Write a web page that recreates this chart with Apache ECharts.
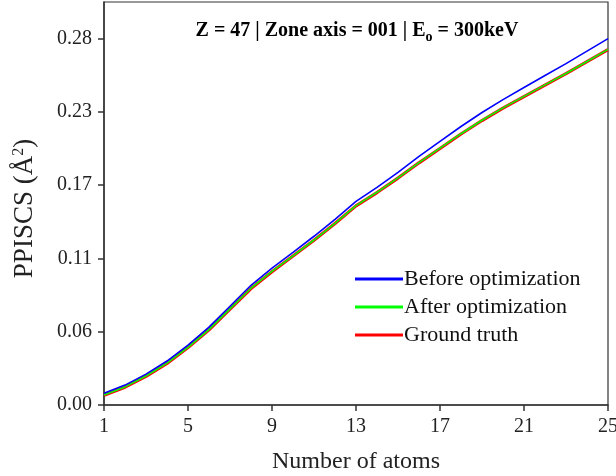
<!DOCTYPE html>
<html>
<head>
<meta charset="utf-8">
<script src="https://cdn.jsdelivr.net/npm/echarts@6/dist/echarts.min.js"></script>
<style>
  html, body { margin: 0; padding: 0; background: #fff; }
  #chart { width: 616px; height: 476px; }
</style>
</head>
<body>
<div id="chart"></div>
<script>
// Number of atoms in the column
const atoms = [1, 2, 3, 4, 5, 6, 7, 8, 9, 10, 11, 12, 13, 14, 15, 16, 17, 18, 19, 20, 21, 22, 23, 24, 25];

// PPISCS values (Å^2)
const beforeOpt = [0.0090, 0.0154, 0.0239, 0.0340, 0.0463, 0.0602, 0.0764, 0.0926, 0.1058, 0.1181,
                   0.1305, 0.1436, 0.1575, 0.1683, 0.1799, 0.1922, 0.2038, 0.2154, 0.2262, 0.2362,
                   0.2455, 0.2548, 0.2640, 0.2737, 0.2833];
const afterOpt  = [0.0077, 0.0140, 0.0224, 0.0324, 0.0446, 0.0583, 0.0743, 0.0903, 0.1033, 0.1154,
                   0.1276, 0.1405, 0.1542, 0.1645, 0.1757, 0.1875, 0.1986, 0.2098, 0.2202, 0.2298,
                   0.2387, 0.2476, 0.2564, 0.2657, 0.2750];
const groundTruth = [0.0075, 0.0138, 0.0222, 0.0322, 0.0444, 0.0581, 0.0741, 0.0901, 0.1031, 0.1152,
                     0.1274, 0.1403, 0.1540, 0.1643, 0.1755, 0.1873, 0.1984, 0.2096, 0.2200, 0.2296,
                     0.2385, 0.2474, 0.2562, 0.2655, 0.2748];

// Axis ticks
const xTicks = [1, 5, 9, 13, 17, 21, 25];
const yTicks = [0, 0.28333 / 5, 0.28333 * 2 / 5, 0.28333 * 3 / 5, 0.28333 * 4 / 5, 0.28333];
const yMax = 0.28333 * 1.1;

const serif = '"Liberation Serif", "Times New Roman", serif';
const axisColor = '#333';
const textColor = '#222';

const pairs = (ys) => atoms.map((x, i) => [x, ys[i]]);

const chart = echarts.init(document.getElementById('chart'), null, { renderer: 'canvas' });

chart.setOption({
  animation: false,
  backgroundColor: '#fff',
  grid: {
    left: 104, right: 8, top: 2, bottom: 71,
    outerBoundsMode: 'none', containLabel: false,
    show: true, borderColor: axisColor, borderWidth: 1.2, backgroundColor: 'transparent'
  },
  graphic: [{
    type: 'text',
    x: 357, y: 31,
    style: {
      text: '{b|Z = 47 | Zone axis = 001 | E}{sub|o}{b| = 300keV}',
      align: 'center', verticalAlign: 'middle',
      rich: {
        b: { fontFamily: serif, fontWeight: 'bold', fontSize: 20, fill: '#000' },
        sub: { fontFamily: serif, fontWeight: 'bold', fontSize: 14, fill: '#000', padding: [12, 0, 0, 0] }
      }
    }
  }],
  legend: {
    orient: 'vertical',
    left: 350, top: 263,
    itemWidth: 48, itemHeight: 3,
    itemGap: 6,
    icon: 'rect',
    textStyle: { fontFamily: serif, fontSize: 22, color: '#111', padding: [0, 0, 0, -4] },
    data: ['Before optimization', 'After optimization', 'Ground truth']
  },
  xAxis: {
    type: 'value',
    min: 1, max: 25,
    name: 'Number of atoms',
    nameLocation: 'middle', nameGap: 45,
    nameTextStyle: { fontFamily: serif, fontSize: 24, color: textColor },
    axisLine: { show: true, lineStyle: { color: axisColor, width: 1.5 } },
    axisTick: { show: true, length: 6, customValues: xTicks, lineStyle: { color: axisColor, width: 1.5 } },
    axisLabel: { customValues: xTicks, fontFamily: serif, fontSize: 20, color: textColor, margin: 12 },
    splitLine: { show: false }
  },
  yAxis: {
    type: 'value',
    min: 0, max: yMax,
    name: '{a|PPISCS (Å}{s|2}{a|)}',
    nameLocation: 'middle', nameGap: 65, nameRotate: 90,
    nameTextStyle: {
      padding: [0, 10, 0, 0],
      rich: {
        a: { fontFamily: serif, fontSize: 27, color: textColor },
        s: { fontFamily: serif, fontSize: 16, color: textColor, padding: [0, 0, 12, 0] }
      }
    },
    axisLine: { show: true, lineStyle: { color: axisColor, width: 1.5 } },
    axisTick: { show: true, length: 6, customValues: yTicks, lineStyle: { color: axisColor, width: 1.5 } },
    axisLabel: {
      customValues: yTicks, fontFamily: serif, fontSize: 20, color: textColor, margin: 12,
      formatter: (v) => v.toFixed(2)
    },
    splitLine: { show: false }
  },
  series: [
    {
      name: 'Ground truth', type: 'line', data: pairs(groundTruth),
      showSymbol: false, color: '#ff0000', z: 1,
      lineStyle: { color: '#ff0000', width: 3.2 }
    },
    {
      name: 'After optimization', type: 'line', data: pairs(afterOpt),
      showSymbol: false, color: '#00ff00', z: 2,
      lineStyle: { color: '#00ff00', width: 1.6 }
    },
    {
      name: 'Before optimization', type: 'line', data: pairs(beforeOpt),
      showSymbol: false, color: '#0000ff', z: 3,
      lineStyle: { color: '#0000ff', width: 1.6 }
    }
  ]
});
</script>
</body>
</html>
